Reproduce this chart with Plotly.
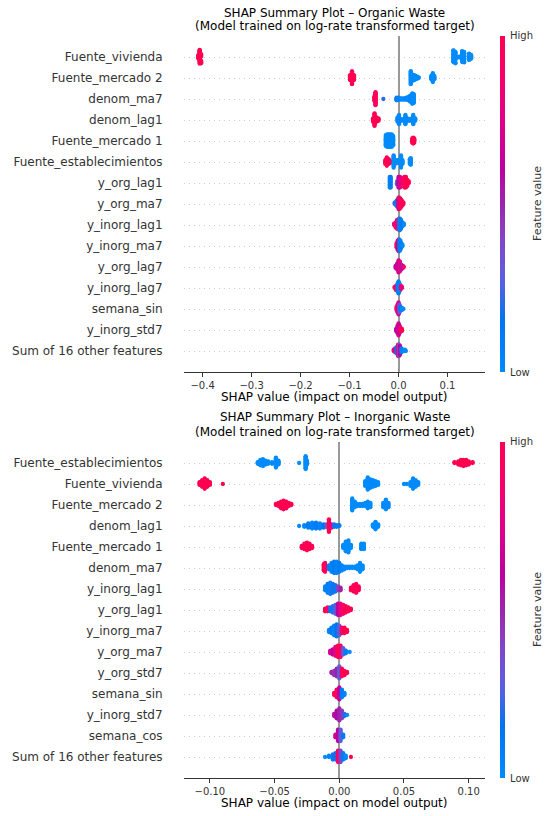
import numpy as np
import plotly.graph_objects as go

# ---------------- 数据：每个特征 = [(SHAP值, 样本数, 特征值0~1), ...] ----------------
# 上图：Organic Waste（特征从上到下）
org_features = ["Fuente_vivienda", "Fuente_mercado 2", "denom_ma7", "denom_lag1",
                "Fuente_mercado 1", "Fuente_establecimientos", "y_org_lag1", "y_org_ma7",
                "y_inorg_lag1", "y_inorg_ma7", "y_org_lag7", "y_inorg_lag7",
                "semana_sin", "y_inorg_std7", "Sum of 16 other features"]

org_vivienda = [(-0.409, 8, 1), (-0.406, 26, 1), (-0.403, 8, 1),
                (0.112, 18, 0), (0.116, 14, 0), (0.121, 3, 0), (0.125, 3, 0),
                (0.130, 18, 0), (0.134, 10, 0), (0.144, 16, 0), (0.148, 10, 0)]
org_mercado2 = [(-0.099, 8, 1), (-0.095, 20, 1), (-0.091, 8, 1),
                (0.025, 20, 0), (0.029, 10, 0), (0.032, 8, 0), (0.035, 6, 0), (0.038, 4, 0),
                (0.041, 2, 0), (0.067, 6, 0), (0.070, 14, 0), (0.073, 6, 0)]
org_denom_ma7 = [(-0.049, 8, 1), (-0.047, 20, 0.95), (-0.031, 1, 0.2),
                 (-0.004, 5, 0.1), (0.000, 4, 0.05), (0.004, 3, 0.05), (0.008, 3, 0.0),
                 (0.012, 3, 0.0), (0.016, 4, 0.05), (0.020, 6, 0.0), (0.024, 10, 0.05),
                 (0.028, 16, 0.0), (0.031, 14, 0.0)]
org_denom_lag1 = [(-0.052, 5, 1), (-0.049, 16, 1), (-0.045, 6, 0.95), (-0.041, 4, 1),
                  (-0.002, 6, 0.05), (0.001, 12, 0.0), (0.005, 3, 0.05), (0.010, 3, 0.0),
                  (0.014, 12, 0.0), (0.018, 4, 0.05), (0.022, 3, 0.0), (0.027, 4, 0.0),
                  (0.030, 12, 0.0), (0.034, 4, 0.0)]
org_mercado1 = [(-0.026, 14, 0), (-0.023, 16, 0), (-0.020, 16, 0), (-0.017, 16, 0),
                (-0.014, 16, 0), (-0.011, 12, 0),
                (0.028, 6, 1), (0.030, 8, 1), (0.032, 6, 1)]
org_establec = [(-0.027, 5, 1), (-0.024, 10, 1), (-0.020, 6, 1), (-0.017, 3, 1),
                (-0.010, 14, 0), (-0.007, 5, 0), (-0.003, 4, 0), (0.001, 4, 0),
                (0.005, 14, 0), (0.008, 5, 0), (0.023, 6, 0), (0.025, 8, 0)]
org_y_org_lag1 = [(-0.018, 8, 0.05), (-0.016, 8, 0.1), (-0.003, 3, 0.3),
                  (0.000, 8, 0.6), (0.003, 8, 0.7), (0.006, 6, 0.75), (0.009, 6, 0.9),
                  (0.012, 8, 0.95), (0.015, 8, 1.0), (0.018, 5, 1.0), (0.021, 2, 1.0)]
org_y_org_ma7 = [(-0.008, 2, 0.2), (-0.005, 4, 0.3), (-0.003, 6, 0.1), (0.000, 10, 0.6),
                 (0.002, 10, 0.9), (0.004, 8, 1.0), (0.006, 6, 0.9), (0.008, 4, 1.0),
                 (0.010, 2, 1.0)]
org_y_inorg_lag1 = [(-0.009, 2, 0.7), (-0.006, 5, 0.9), (-0.003, 8, 0.8), (-0.001, 8, 1.0),
                    (0.001, 10, 0.2), (0.003, 10, 0.05), (0.005, 8, 0.1), (0.008, 4, 0.1),
                    (0.011, 2, 0.0)]
org_y_inorg_ma7 = [(-0.004, 4, 1.0), (-0.002, 8, 0.9), (0.000, 10, 0.6), (0.002, 10, 0.1),
                   (0.004, 8, 0.05), (0.006, 4, 0.1), (0.008, 2, 0.0)]
org_y_org_lag7 = [(-0.006, 3, 0.6), (-0.003, 6, 0.7), (0.000, 12, 0.65), (0.003, 10, 0.8),
                  (0.006, 5, 0.55), (0.009, 3, 0.7), (0.011, 1, 0.9)]
org_y_inorg_lag7 = [(-0.008, 2, 1.0), (-0.005, 5, 0.95), (-0.002, 8, 0.2), (0.000, 12, 0.1),
                    (0.002, 8, 0.05), (0.005, 4, 0.9), (0.007, 2, 0.8)]
org_semana_sin = [(-0.004, 4, 1.0), (-0.002, 8, 0.9), (0.000, 12, 0.7), (0.002, 8, 0.3),
                  (0.004, 4, 0.1), (0.007, 3, 0.05), (0.010, 1, 0.0)]
org_y_inorg_std7 = [(-0.005, 3, 0.6), (-0.002, 8, 0.55), (0.000, 12, 0.7), (0.002, 8, 0.65),
                    (0.004, 4, 0.9), (0.007, 3, 1.0)]
org_sum_other = [(-0.010, 2, 0.8), (-0.007, 4, 0.7), (-0.004, 6, 0.2), (-0.001, 10, 0.9),
                 (0.001, 10, 0.3), (0.003, 8, 0.6), (0.006, 4, 0.1), (0.009, 2, 0.05),
                 (0.013, 2, 0.0), (0.015, 1, 0.0)]

org_rows = [org_vivienda, org_mercado2, org_denom_ma7, org_denom_lag1, org_mercado1,
            org_establec, org_y_org_lag1, org_y_org_ma7, org_y_inorg_lag1, org_y_inorg_ma7,
            org_y_org_lag7, org_y_inorg_lag7, org_semana_sin, org_y_inorg_std7, org_sum_other]

# 下图：Inorganic Waste
inorg_features = ["Fuente_establecimientos", "Fuente_vivienda", "Fuente_mercado 2", "denom_lag1",
                  "Fuente_mercado 1", "denom_ma7", "y_inorg_lag1", "y_org_lag1",
                  "y_inorg_ma7", "y_org_ma7", "y_org_std7", "semana_sin",
                  "y_inorg_std7", "semana_cos", "Sum of 16 other features"]

inorg_establec = [(-0.063, 3, 0), (-0.061, 8, 0), (-0.059, 10, 0), (-0.057, 6, 0),
                  (-0.055, 4, 0), (-0.052, 3, 0), (-0.049, 14, 0), (-0.047, 6, 0),
                  (-0.031, 1, 0), (-0.026, 18, 0), (-0.025, 6, 0),
                  (0.089, 2, 1), (0.092, 5, 1), (0.094, 8, 1), (0.096, 9, 1), (0.098, 8, 1),
                  (0.100, 5, 1), (0.103, 2, 1)]
inorg_vivienda = [(-0.108, 4, 1), (-0.106, 8, 1), (-0.104, 12, 1), (-0.102, 8, 1),
                  (-0.100, 4, 1), (-0.090, 1, 1),
                  (0.020, 6, 0), (0.022, 14, 0), (0.024, 10, 0), (0.026, 8, 0), (0.028, 6, 0),
                  (0.030, 4, 0), (0.050, 1, 0), (0.052, 1, 0), (0.055, 5, 0), (0.057, 12, 0),
                  (0.059, 8, 0), (0.061, 4, 0)]
inorg_mercado2 = [(-0.049, 2, 1), (-0.047, 4, 1), (-0.045, 7, 1), (-0.043, 9, 1),
                  (-0.041, 7, 1), (-0.039, 4, 1), (-0.037, 2, 1),
                  (0.010, 12, 0), (0.012, 6, 0), (0.014, 3, 0), (0.016, 3, 0), (0.018, 3, 0),
                  (0.020, 4, 0), (0.022, 7, 0), (0.024, 5, 0), (0.034, 5, 0), (0.036, 10, 0),
                  (0.038, 5, 0)]
inorg_denom_lag1 = [(-0.031, 1, 0.0), (-0.027, 3, 0.05), (-0.024, 6, 0.1), (-0.021, 8, 0.05),
                    (-0.018, 8, 0.1), (-0.015, 7, 0.05), (-0.012, 5, 0.15), (-0.010, 4, 0.3),
                    (-0.008, 16, 1.0), (-0.006, 5, 0.8), (-0.004, 4, 0.2), (-0.002, 3, 0.1),
                    (0.000, 2, 0.1), (0.026, 4, 0.0), (0.028, 10, 0.0), (0.030, 4, 0.0)]
inorg_mercado1 = [(-0.029, 3, 1), (-0.027, 6, 1), (-0.025, 8, 1), (-0.023, 6, 1),
                  (-0.021, 3, 1),
                  (0.003, 4, 0), (0.005, 10, 0), (0.007, 12, 0), (0.009, 4, 0),
                  (0.017, 6, 0), (0.019, 6, 0)]
inorg_denom_ma7 = [(-0.012, 6, 1.0), (-0.011, 8, 0.95), (-0.008, 4, 0.1), (-0.006, 8, 0.05),
                   (-0.004, 10, 0.1), (-0.002, 10, 0.05), (0.000, 8, 0.1), (0.002, 5, 0.05),
                   (0.004, 3, 0.0), (0.006, 2, 0.0), (0.008, 2, 0.0), (0.010, 2, 0.0),
                   (0.012, 2, 0.0), (0.014, 4, 0.0), (0.016, 8, 0.0), (0.018, 4, 0.0)]
inorg_y_inorg_lag1 = [(-0.011, 4, 0.05), (-0.009, 8, 0.1), (-0.007, 10, 0.05), (-0.005, 8, 0.2),
                      (-0.003, 6, 0.1), (-0.001, 4, 0.4), (0.001, 3, 0.5), (0.009, 3, 1.0),
                      (0.011, 6, 1.0), (0.013, 8, 0.95), (0.015, 4, 1.0)]
inorg_y_org_lag1 = [(-0.011, 3, 1.0), (-0.009, 4, 0.9), (-0.007, 4, 0.2), (-0.005, 6, 0.1),
                    (-0.003, 8, 0.3), (-0.001, 10, 0.6), (0.001, 10, 0.8), (0.003, 8, 0.9),
                    (0.005, 6, 1.0), (0.007, 4, 0.95), (0.009, 2, 1.0)]
inorg_y_inorg_ma7 = [(-0.008, 3, 0.05), (-0.006, 6, 0.1), (-0.004, 10, 0.05), (-0.002, 12, 0.15),
                     (0.000, 10, 0.3), (0.002, 6, 0.9), (0.004, 6, 1.0), (0.006, 3, 1.0)]
inorg_y_org_ma7 = [(-0.007, 3, 0.7), (-0.005, 5, 0.6), (-0.003, 8, 0.8), (-0.001, 10, 1.0),
                   (0.001, 10, 0.9), (0.003, 6, 0.3), (0.005, 3, 0.1), (0.008, 1, 0.0)]
inorg_y_org_std7 = [(-0.006, 2, 0.5), (-0.004, 5, 0.45), (-0.002, 8, 0.5), (0.000, 12, 0.3),
                    (0.002, 8, 1.0), (0.004, 5, 0.95), (0.006, 2, 1.0)]
inorg_semana_sin = [(-0.004, 3, 1.0), (-0.002, 8, 0.95), (0.000, 12, 0.6), (0.002, 8, 0.1),
                    (0.004, 3, 0.05)]
inorg_y_inorg_std7 = [(-0.004, 3, 0.55), (-0.002, 8, 0.6), (0.000, 12, 0.5), (0.002, 8, 0.45),
                      (0.004, 3, 0.2), (0.006, 1, 0.0)]
inorg_semana_cos = [(-0.003, 3, 0.7), (-0.001, 10, 0.6), (0.001, 10, 0.3), (0.003, 3, 0.1)]
inorg_sum_other = [(-0.011, 1, 0.0), (-0.008, 2, 0.05), (-0.005, 5, 0.1), (-0.003, 6, 0.2),
                   (-0.001, 10, 0.9), (0.001, 10, 0.4), (0.003, 6, 0.1), (0.005, 3, 0.0),
                   (0.009, 1, 1.0)]

inorg_rows = [inorg_establec, inorg_vivienda, inorg_mercado2, inorg_denom_lag1, inorg_mercado1,
              inorg_denom_ma7, inorg_y_inorg_lag1, inorg_y_org_lag1, inorg_y_inorg_ma7,
              inorg_y_org_ma7, inorg_y_org_std7, inorg_semana_sin, inorg_y_inorg_std7,
              inorg_semana_cos, inorg_sum_other]

org_ticks = [-0.4, -0.3, -0.2, -0.1, 0.0, 0.1]
org_ticktext = ["−0.4", "−0.3", "−0.2", "−0.1", "0.0", "0.1"]
inorg_ticks = [-0.10, -0.05, 0.0, 0.05, 0.10]
inorg_ticktext = ["−0.10", "−0.05", "0.00", "0.05", "0.10"]


# shap 的 red_blue 色带（LCH 空间插值）
def lch_to_rgb(l, c, h):
    a, b = c * np.cos(h), c * np.sin(h)
    fy = (l + 16) / 116
    fx, fz = fy + a / 500, fy - b / 200

    def finv(t):
        return t ** 3 if t > 6 / 29 else 3 * (6 / 29) ** 2 * (t - 4 / 29)
    X, Y, Z = 0.95047 * finv(fx), finv(fy), 1.08883 * finv(fz)
    lin = [3.2406 * X - 1.5372 * Y - 0.4986 * Z,
           -0.9689 * X + 1.8758 * Y + 0.0415 * Z,
           0.0557 * X - 0.2040 * Y + 1.0570 * Z]
    out = []
    for v in lin:
        v = 1.055 * v ** (1 / 2.4) - 0.055 if v > 0.0031308 else 12.92 * v
        out.append(int(round(min(max(v, 0), 1) * 255)))
    return out


colorscale = []
for p in np.linspace(0, 1, 21):
    l = 54 - 14 * p / 0.5 if p < 0.5 else 40 + 14 * (p - 0.5) / 0.5
    c = 70 + 20 * p
    h = 4.6588 + p * (0.35470565 + 2 * np.pi - 4.6588)
    r, g, b = lch_to_rgb(l, c, h)
    colorscale.append([float(p), f"rgb({r},{g},{b})"])


# beeswarm 纵向抖动（仿 shap 的分箱堆叠）
def swarm(rows, row_height=0.4, nbins=100):
    xs, ys, cs = [], [], []
    n = len(rows)
    for i, row in enumerate(rows):
        pos = n - 1 - i
        sv, fv, frac = [], [], []
        for x, cnt, f in row:
            for k in range(cnt):
                sv.append(x); fv.append(f); frac.append(k / cnt)
        sv = np.array(sv); fv = np.array(fv)
        quant = np.round(nbins * (sv - sv.min()) / (sv.max() - sv.min() + 1e-8))
        inds = np.lexsort((np.array(frac), quant))
        layer, last_bin = 0, -1
        jit = np.zeros(len(sv))
        for ind in inds:
            if quant[ind] != last_bin:
                layer = 0
            jit[ind] = np.ceil(layer / 2) * ((layer % 2) * 2 - 1)
            layer += 1
            last_bin = quant[ind]
        jit *= 0.9 * (row_height / np.max(jit + 1))
        xs += list(sv); ys += list(pos + jit); cs += list(fv)
    return xs, ys, cs


W, H = 550, 816
x_dom = [184 / W, 485 / W]
top_dom = [1 - 372 / H, 1 - 36 / H]
bot_dom = [1 - 778 / H, 1 - 442 / H]
TXT = "#333333"

fig = go.Figure()
for rows, xa, ya, ca in [(org_rows, "x", "y", "coloraxis"), (inorg_rows, "x2", "y2", "coloraxis2")]:
    xs, ys, cs = swarm(rows)
    fig.add_trace(go.Scatter(
        x=xs, y=ys, mode="markers", xaxis=xa, yaxis=ya, showlegend=False,
        marker=dict(size=4.3, color=cs, coloraxis=ca, line=dict(width=0)),
        hovertemplate="%{x:.4f}<extra></extra>"
    ))


def xaxis_cfg(rng, ticks, text, anchor):
    return dict(domain=x_dom, range=rng, anchor=anchor, tickvals=ticks, ticktext=text,
                showgrid=False, zeroline=True, zerolinecolor="#999999", zerolinewidth=1.6,
                showline=True, linecolor=TXT, linewidth=1, ticks="outside", ticklen=4,
                tickcolor=TXT, tickfont=dict(size=10, color=TXT), automargin=False)


def yaxis_cfg(dom, names, anchor):
    n = len(names)
    return dict(domain=dom, range=[-1, n], anchor=anchor, tickvals=list(range(n)),
                ticktext=names[::-1], showgrid=True, gridcolor="#cccccc", gridwidth=0.6,
                griddash="1px,4px", zeroline=False, showline=False, ticks="outside",
                ticklen=18, tickcolor="rgba(0,0,0,0)", tickfont=dict(size=12, color=TXT),
                automargin=False)


def cbar(ymid):
    return dict(x=500 / W, xanchor="left", y=ymid, yanchor="middle", len=336 / H,
                lenmode="fraction", thickness=5, thicknessmode="pixels", xpad=0, ypad=0,
                outlinewidth=0, showticklabels=False, ticks="")


fig.update_layout(
    width=W, height=H, margin=dict(l=0, r=0, t=0, b=0),
    paper_bgcolor="white", plot_bgcolor="white",
    font=dict(family="DejaVu Sans", color="black"),
    xaxis=xaxis_cfg([-0.438, 0.1765], org_ticks, org_ticktext, "y"),
    yaxis=yaxis_cfg(top_dom, org_features, "x"),
    xaxis2=xaxis_cfg([-0.120, 0.1126], inorg_ticks, inorg_ticktext, "y2"),
    yaxis2=yaxis_cfg(bot_dom, inorg_features, "x2"),
    coloraxis=dict(colorscale=colorscale, cmin=0, cmax=1, colorbar=cbar(1 - 204 / H)),
    coloraxis2=dict(colorscale=colorscale, cmin=0, cmax=1, colorbar=cbar(1 - 610 / H)),
)

# 标题、坐标轴标题、色条文字
xc = (184 + 485) / 2 / W
notes = [
    ("SHAP Summary Plot – Organic Waste", xc, 13, 12, 0, "center"),
    ("(Model trained on log-rate transformed target)", xc, 26, 12, 0, "center"),
    ("SHAP value (impact on model output)", xc, 397, 12, 0, "center"),
    ("SHAP Summary Plot – Inorganic Waste", xc, 417, 12, 0, "center"),
    ("(Model trained on log-rate transformed target)", xc, 432, 12, 0, "center"),
    ("SHAP value (impact on model output)", xc, 803, 12, 0, "center"),
    ("High", 508 / W, 36, 10, 0, "left"),
    ("Low", 508 / W, 373, 10, 0, "left"),
    ("Feature value", 537 / W, 204, 11, -90, "center"),
    ("High", 508 / W, 442, 10, 0, "left"),
    ("Low", 508 / W, 778, 10, 0, "left"),
    ("Feature value", 537 / W, 610, 11, -90, "center"),
]
for text, x, ypx, size, ang, xanc in notes:
    fig.add_annotation(text=text, x=x, y=1 - ypx / H, xref="paper", yref="paper",
                       xanchor=xanc, yanchor="middle", showarrow=False, textangle=ang,
                       font=dict(size=size, color="black" if size == 12 else TXT))

fig.write_html("out.html", config={"displayModeBar": False})

# 去掉页面默认边距，使图表贴合窗口
with open("out.html", encoding="utf-8") as f:
    page = f.read()
page = page.replace("<head>", "<head><style>body{margin:0;overflow:hidden;}</style>", 1)
with open("out.html", "w", encoding="utf-8") as f:
    f.write(page)
